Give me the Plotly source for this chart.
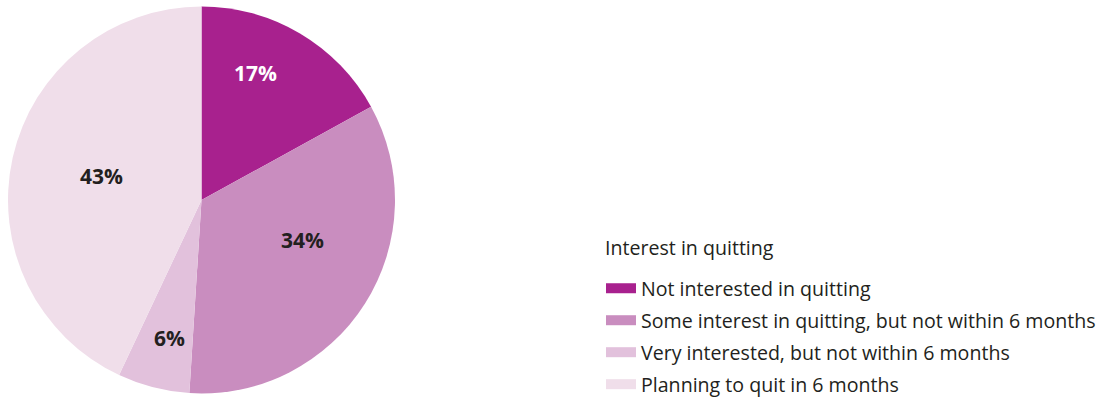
import math
import plotly.graph_objects as go

# Interest in quitting: share of respondents in each group
categories = [
    "Not interested in quitting",
    "Some interest in quitting, but not within 6 months",
    "Very interested, but not within 6 months",
    "Planning to quit in 6 months",
]
percentages = [17, 34, 6, 43]
slice_colors = ["#A8218E", "#C98DBF", "#E2C1DC", "#F0DEEA"]
label_colors = ["#FFFFFF", "#231F20", "#231F20", "#231F20"]

# label placement inside each slice: nudge (degrees) from the slice bisector
# and distance from the centre as a fraction of the radius
label_nudge_deg = [-7.5, -11, -1.5, 0.8]
label_radius_frac = [0.71, 0.56, 0.73, 0.53]

W, H = 1115, 401
FONT = "Open Sans"
TEXT = "#231F20"

# pie geometry in pixels (domain is square, so radius = half its side)
px0, px1 = 8, 395
py0, py1 = 6, 394
cx, cy = (px0 + px1) / 2, (py0 + py1) / 2
radius = (py1 - py0) / 2

fig = go.Figure()
fig.add_trace(
    go.Pie(
        labels=categories,
        values=percentages,
        sort=False,
        direction="clockwise",
        rotation=0,
        marker=dict(colors=slice_colors, line=dict(width=0)),
        textinfo="none",
        hoverinfo="label+percent",
        showlegend=False,
        domain=dict(x=[px0 / W, px1 / W], y=[1 - py1 / H, 1 - py0 / H]),
    )
)

# percentage labels placed along each slice's bisector
total = sum(percentages)
start = 0.0
for val, col, nudge, frac in zip(percentages, label_colors, label_nudge_deg, label_radius_frac):
    mid = (start + val / 2) / total * 360 + nudge
    start += val
    ang = math.radians(mid)
    lx = cx + radius * frac * math.sin(ang)
    ly = cy - radius * frac * math.cos(ang)
    fig.add_annotation(
        x=lx / W, y=1 - ly / H, xref="paper", yref="paper",
        text=f"<b>{val}%</b>", showarrow=False,
        font=dict(family=FONT, size=21, color=col),
        xanchor="center", yanchor="middle",
    )

# legend entries, one per category, drawn as wide colour swatches
for name, col in zip(categories, slice_colors):
    fig.add_trace(
        go.Scatter(
            x=[None], y=[None], mode="lines", name=name,
            line=dict(color=col, width=10),
            legendgroup=name, showlegend=True, hoverinfo="skip",
        )
    )

# legend heading
fig.add_annotation(
    x=603 / W, y=1 - 247 / H, xref="paper", yref="paper",
    text="Interest in quitting", showarrow=False,
    font=dict(family=FONT, size=19.6, color=TEXT),
    xanchor="left", yanchor="middle",
)

fig.update_layout(
    width=W,
    height=H,
    margin=dict(l=0, r=0, t=0, b=0, autoexpand=False),
    paper_bgcolor="white",
    plot_bgcolor="white",
    font=dict(family=FONT, size=19.6, color=TEXT),
    xaxis=dict(visible=False),
    yaxis=dict(visible=False),
    legend=dict(
        x=601 / W,
        xanchor="left",
        y=1 - 269 / H,
        yanchor="top",
        traceorder="grouped",
        tracegroupgap=3.5,
        itemwidth=30,
        font=dict(family=FONT, size=19.6, color=TEXT),
        bgcolor="rgba(0,0,0,0)",
    ),
)

fig.write_html("out.html")
